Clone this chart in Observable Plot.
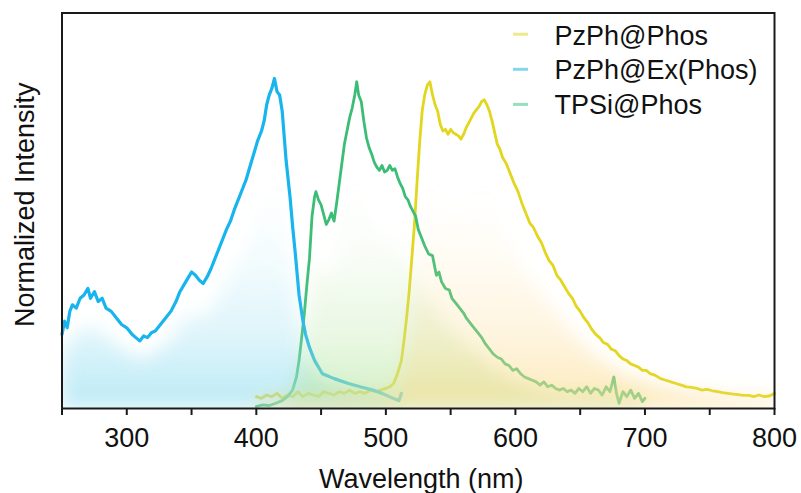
<!DOCTYPE html>
<html><head><meta charset="utf-8">
<script src="https://cdn.jsdelivr.net/npm/d3@7"></script>
<script src="https://cdn.jsdelivr.net/npm/@observablehq/plot@0.6"></script>
<style>body{margin:0;background:#fff}#chart{width:801px;height:493px}</style>
</head><body><div id="chart"></div>
<script>
// PzPh@Ex(Phos) (excitation, blue)
const exWl  = [250,252,254,256,258,261,264,267,270,272,275,278,281,284,288,292,296,300,304,307,310,313,316,319,322,326,330,334,338,341,344,347,350,353,356,359,362,365,368,371,374,377,380,383,386,389,392,395,398,401,404,406,408,410,412,414,416,418,420,423,426,428,430,433,436,438,441,445,451,460,471,480,490,497,505,510,512];
const exVal = [0.22,0.26,0.24,0.29,0.31,0.30,0.33,0.34,0.36,0.33,0.35,0.32,0.33,0.30,0.29,0.27,0.25,0.24,0.22,0.21,0.20,0.215,0.21,0.225,0.23,0.25,0.27,0.29,0.32,0.35,0.37,0.39,0.41,0.40,0.385,0.375,0.395,0.42,0.45,0.48,0.51,0.54,0.565,0.60,0.63,0.66,0.69,0.73,0.77,0.81,0.84,0.87,0.92,0.95,0.97,1.0,0.96,0.95,0.90,0.75,0.64,0.55,0.47,0.34,0.26,0.22,0.18,0.14,0.10,0.085,0.07,0.06,0.05,0.04,0.026,0.018,0.04];

// TPSi@Phos (green)
const tpWl  = [400,405,410,415,420,424,428,431,433,435,437,439,441,443,445,446,448,450,452,454,456,458,460,462,464,466,468,470,472,474,476,477.5,479,481,483,485,487,489,491,493,495,497,499,501,503,505,507,509,511,513,515,517,519,521,523,525,527,530,533,536,539,541,543,546,549,551,554,557,560,562,565,568,571,574,577,580,583,586,589,592,595,598,601,604,607,610,613,616,619,622,625,628,631,634,637,640,643,646,649,652,655,658,661,664,667,670,673,676,678,680,683,686,689,692,695,698,700];
const tpVal = [0.0,0.005,0.003,0.01,0.018,0.03,0.05,0.09,0.14,0.21,0.28,0.37,0.45,0.58,0.64,0.655,0.63,0.615,0.585,0.555,0.57,0.59,0.565,0.62,0.68,0.74,0.80,0.84,0.88,0.91,0.95,0.99,0.95,0.93,0.87,0.82,0.79,0.77,0.745,0.73,0.72,0.735,0.715,0.72,0.735,0.72,0.725,0.70,0.68,0.665,0.64,0.63,0.61,0.595,0.58,0.54,0.52,0.49,0.465,0.46,0.40,0.41,0.38,0.36,0.355,0.33,0.315,0.30,0.285,0.27,0.255,0.24,0.225,0.21,0.19,0.175,0.16,0.15,0.145,0.13,0.125,0.11,0.115,0.10,0.09,0.085,0.08,0.075,0.065,0.075,0.06,0.065,0.055,0.05,0.055,0.045,0.05,0.04,0.055,0.045,0.06,0.04,0.055,0.05,0.035,0.06,0.045,0.09,0.04,0.01,0.045,0.03,0.05,0.025,0.04,0.015,0.025];

// PzPh@Phos (yellow)
const pzWl  = [400,404,408,412,416,420,424,428,432,436,440,444,448,452,456,460,464,468,472,476,480,484,488,492,496,500,503,506,509,512,514,516,518,520,522,524,526,528,530,532,534,536,538,540,542,544,546,548,550,552,554,556,558,560,562,564,566,568,570,572,574,576,578,580,582,584,586,588,590,593,596,599,602,605,608,611,614,617,620,623,626,629,632,635,638,641,644,647,650,653,656,659,662,665,668,671,674,677,680,683,686,689,692,695,698,701,704,708,712,716,720,724,728,732,736,740,744,748,752,756,760,764,768,772,776,780,784,788,792,796,800];
const pzVal = [0.03,0.025,0.035,0.03,0.04,0.025,0.035,0.03,0.045,0.03,0.04,0.035,0.03,0.045,0.04,0.035,0.045,0.04,0.05,0.04,0.045,0.04,0.05,0.045,0.05,0.055,0.06,0.07,0.10,0.14,0.20,0.27,0.35,0.45,0.55,0.68,0.80,0.90,0.95,0.98,0.99,0.95,0.92,0.90,0.86,0.84,0.845,0.83,0.845,0.835,0.83,0.825,0.815,0.83,0.85,0.865,0.88,0.895,0.905,0.915,0.93,0.935,0.92,0.90,0.87,0.835,0.80,0.785,0.76,0.74,0.71,0.68,0.655,0.62,0.59,0.56,0.545,0.52,0.50,0.47,0.445,0.43,0.40,0.385,0.365,0.345,0.33,0.305,0.29,0.27,0.255,0.235,0.22,0.21,0.195,0.19,0.175,0.17,0.155,0.145,0.14,0.13,0.125,0.12,0.11,0.11,0.10,0.095,0.085,0.08,0.075,0.07,0.065,0.06,0.058,0.055,0.05,0.052,0.048,0.045,0.042,0.04,0.038,0.036,0.034,0.034,0.03,0.035,0.03,0.032,0.04];

const seriesNames  = ["PzPh@Phos", "PzPh@Ex(Phos)", "TPSi@Phos"];
const lineColors   = ["#e2d61e", "#18b4ee", "#3cbd76"];
const legendColors = ["#ece98e", "#84d6ef", "#96e0bb"];
const fillColors   = ["#fcdc90", "#8fdcf0", "#b5e6a0"];
const xTicks = [250,300,350,400,450,500,550,600,650,700,750,800];

const mk = (wl, val) => wl.map((x, i) => ({x, v: val[i]}));
const pz = mk(pzWl, pzVal), ex = mk(exWl, exVal), tp = mk(tpWl, tpVal);
const yMin = -0.0061;

const defsMark = () => {
  const ns = "http://www.w3.org/2000/svg";
  const defs = document.createElementNS(ns, "defs");
  let html = "";
  ["gPz","gEx","gTp"].forEach((id, i) => {
    html += `<linearGradient id="${id}" x1="0" y1="1" x2="0" y2="0">
      <stop offset="0" stop-color="${fillColors[i]}" stop-opacity="0.6"/>
      <stop offset="0.3" stop-color="${fillColors[i]}" stop-opacity="0.3"/>
      <stop offset="0.65" stop-color="${fillColors[i]}" stop-opacity="0.1"/>
      <stop offset="1" stop-color="${fillColors[i]}" stop-opacity="0"/></linearGradient>`;
  });
  html += `<filter id="blur" x="-0.2" y="-0.2" width="1.4" height="1.4"><feGaussianBlur stdDeviation="9"/></filter>`;
  html += `<clipPath id="fclip"><rect x="61.5" y="12.5" width="712.5" height="395.5"/></clipPath>`;
  defs.innerHTML = html;
  return defs;
};

const legendMarkers = (index, scales, values, dim) => {
  const ns = "http://www.w3.org/2000/svg";
  const g = document.createElementNS(ns, "g");
  legendColors.forEach((c, i) => {
    const l = document.createElementNS(ns, "line");
    const y = dim.marginTop + 21.7 + i * 35.1;
    l.setAttribute("x1", dim.marginLeft + 451.5);
    l.setAttribute("x2", dim.marginLeft + 466.5);
    l.setAttribute("y1", y); l.setAttribute("y2", y);
    l.setAttribute("stroke", c); l.setAttribute("stroke-width", 3);
    g.appendChild(l);
  });
  return g;
};

const fontFamily = "'Liberation Sans', Arial, Helvetica, sans-serif";
const chart = Plot.plot({
  width: 801, height: 493,
  marginLeft: 61.5, marginRight: 27, marginTop: 12.5, marginBottom: 85,
  style: {fontFamily, fontSize: "27px", background: "white", color: "#111"},
  x: {domain: [250, 800], label: null},
  y: {domain: [yMin, 1.1997], axis: null},
  marks: [
    defsMark,
    Plot.lineY(pz, {x: "x", y: "v", stroke: lineColors[0], strokeWidth: 2.8}),
    Plot.lineY(tp, {x: "x", y: "v", stroke: lineColors[2], strokeWidth: 2.8}),
    Plot.lineY(ex, {x: "x", y: "v", stroke: lineColors[1], strokeWidth: 3.2}),
    Plot.areaY(ex, {x: "x", y1: () => yMin, y2: d => d.v * 0.7, fill: "url(#gEx)"}),
    Plot.areaY(tp, {x: "x", y1: () => yMin, y2: d => d.v * 0.7, fill: "url(#gTp)"}),
    Plot.areaY(pz, {x: "x", y1: () => yMin, y2: d => d.v * 0.7, fill: "url(#gPz)"}),
    Plot.frame({stroke: "#1a1a1a", strokeWidth: 2}),
    Plot.axisX({ticks: xTicks, tickFormat: d => d % 100 === 0 ? String(d) : "", tickSize: 7, tickPadding: 12, strokeWidth: 2, stroke: "#1a1a1a", fontSize: 27, label: null}),
    Plot.text(["Normalized Intensity"], {frameAnchor: "left", rotate: -90, dx: -37, dy: -6, fontSize: 27, fill: "#111", lineAnchor: "middle", textAnchor: "middle"}),
    Plot.text(["Wavelength (nm)"], {frameAnchor: "bottom", dy: 60, dx: 3, fontSize: 27, fill: "#111", lineAnchor: "top", textAnchor: "middle"}),
    ...seriesNames.map((name, i) => Plot.text([name], {frameAnchor: "top-left", dx: 492.5, dy: 12.5 + i * 34.6, fontSize: 27, fill: "#111", lineAnchor: "top", textAnchor: "start"})),
    legendMarkers
  ]
});
const svg = d3.select(chart);
svg.selectAll('g[aria-label="area"]').attr("clip-path", "url(#fclip)").selectAll("path").attr("filter", "url(#blur)");
document.getElementById("chart").appendChild(chart);
</script></body></html>
